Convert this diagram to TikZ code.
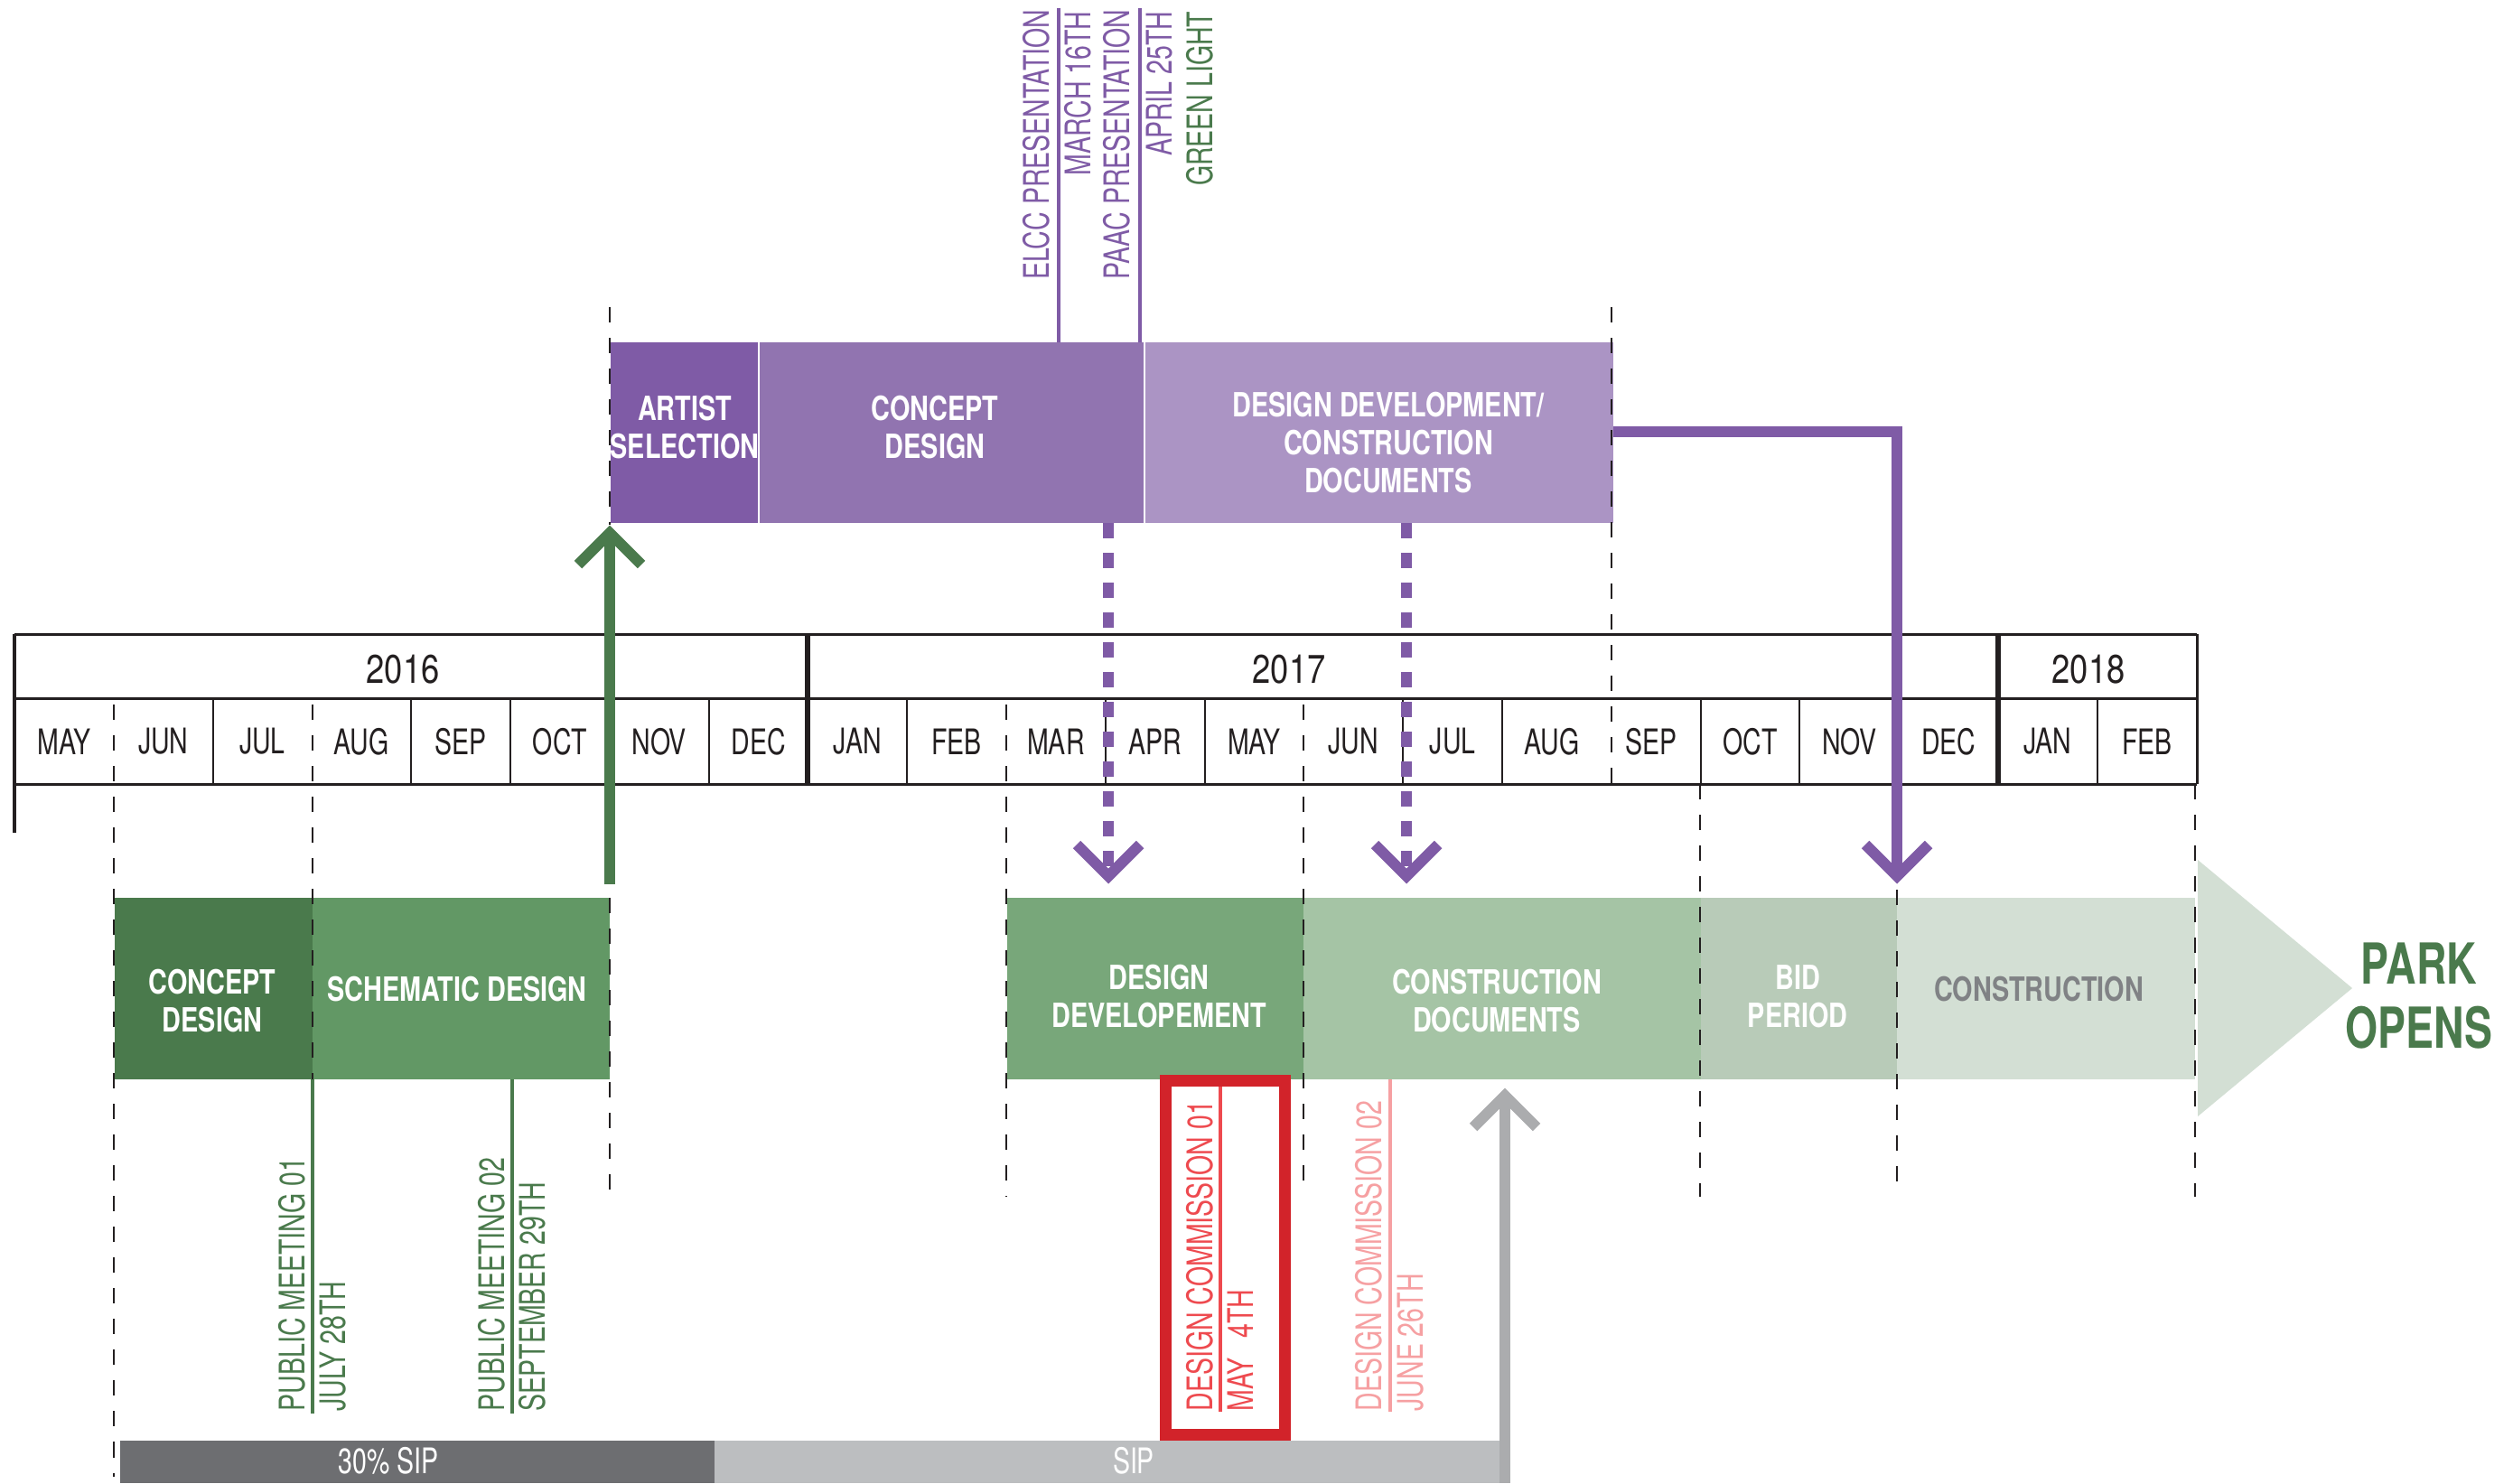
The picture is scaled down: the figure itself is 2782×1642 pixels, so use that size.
\documentclass[tikz,border=0pt]{standalone}
\usepackage{fontspec}
\setmainfont{TeX Gyre Heros}[FakeStretch=0.73]
\newfontfamily\bcond{TeX Gyre Heros}[FakeStretch=0.78]
\newfontfamily\pcond{TeX Gyre Heros}[FakeStretch=0.74]
\newfontfamily\ycond{TeX Gyre Heros}[FakeStretch=0.82]
\usetikzlibrary{calc}
\definecolor{ink}{HTML}{231F20}
\definecolor{purA}{HTML}{7F5BA6}
\definecolor{purB}{HTML}{9174B0}
\definecolor{purC}{HTML}{AB94C4}
\definecolor{grA}{HTML}{4A7A4C}
\definecolor{grB}{HTML}{629865}
\definecolor{grC}{HTML}{78A77A}
\definecolor{grD}{HTML}{A5C4A5}
\definecolor{grE}{HTML}{B8CBB8}
\definecolor{grF}{HTML}{D3DFD4}
\definecolor{gyA}{HTML}{6D6E71}
\definecolor{gyB}{HTML}{BCBEC0}
\definecolor{gyC}{HTML}{ABACAE}
\definecolor{gyT}{HTML}{808285}
\definecolor{redA}{HTML}{D2232A}
\definecolor{redT}{HTML}{EE4A4F}
\definecolor{pinkT}{HTML}{F6A0A2}
\tikzset{
 bar/.style={draw=none, inner sep=0pt, outer sep=0pt, anchor=north west, minimum height=2cm},
 blab/.style={font=\bcond\bfseries\fontsize{10.5pt}{12pt}\selectfont, text=white, align=center, inner sep=0pt},
 mlab/.style={font=\fontsize{11.1pt}{13pt}\selectfont, text=ink, inner sep=0pt},
 ylab/.style={font=\ycond\fontsize{12.6pt}{14pt}\selectfont, text=ink, inner sep=0pt},
 vlab/.style={font=\fontsize{11.1pt}{13pt}\selectfont, inner sep=0pt, rotate=90},
 guide/.style={draw=ink, line width=0.025cm, dash pattern=on 0.17cm off 0.17cm},
 frameline/.style={draw=ink, line width=0.03cm},
 cellline/.style={draw=ink, line width=0.02cm},
 yearline/.style={draw=ink, line width=0.06cm},
 evline/.style={line width=0.035cm},
 bigarrow/.style={line width=0.12cm, line cap=butt, line join=miter},
 pdash/.style={bigarrow, draw=purA, dash pattern=on 0.17cm off 0.16cm},
}
\newcommand\chevdn[2]{\draw[bigarrow,#1] ($(#2)+(-35,-35)$) -- (#2) -- ($(#2)+(35,-35)$);}
\newcommand\chevup[2]{\draw[bigarrow,#1] ($(#2)+(-35,35)$) -- (#2) -- ($(#2)+(35,35)$);}
\begin{document}
\begin{tikzpicture}[x=0.01cm,y=-0.01cm]
\path[use as bounding box, fill=white] (0,0) rectangle (2782,1642);

% ---------- top (purple) bars
\node[bar, fill=purA, minimum width=1.64cm] (artist) at (676,379) {};
\node[bar, fill=purB, minimum width=4.27cm] (tconc) at (840,379) {};
\node[bar, fill=purC, minimum width=5.19cm] (tddcd) at (1267,379) {};
\draw[white, line width=0.02cm] (artist.north east) -- (artist.south east);
\draw[white, line width=0.02cm] (tconc.north east) -- (tconc.south east);

% ---------- lower (green) bars
\node[bar, fill=grA, minimum width=2.19cm, minimum height=2.01cm] (lconc) at (127,994) {};
\node[bar, fill=grB, minimum width=3.29cm, minimum height=2.01cm] (schem) at (346,994) {};
\node[bar, fill=grC, minimum width=3.28cm, minimum height=2.01cm] (ldd) at (1115,994) {};
\node[bar, fill=grD, minimum width=4.40cm, minimum height=2.01cm] (lcd) at (1443,994) {};
\node[bar, fill=grE, minimum width=2.17cm, minimum height=2.01cm] (bid) at (1883,994) {};
\node[bar, fill=grF, minimum width=3.30cm, minimum height=2.01cm] (constr) at (2100,994) {};
\fill[grF] (2433,952) -- (2604,1094) -- (2433,1236) -- cycle;

% ---------- SIP bars
\node[bar, fill=gyA, minimum width=6.58cm, minimum height=0.47cm] (sip30) at (133,1595) {};
\node[bar, fill=gyB, minimum width=8.70cm, minimum height=0.47cm] (sip) at (791,1595) {};
\node[mlab, text=white] (lsip30) at (430,1617) {30\% SIP};
\node[mlab, text=white] (lsip) at (1255,1617) {SIP};

% ---------- timeline
\draw[frameline] (16,702) -- (2432,702);
\draw[frameline] (16,773) -- (2432,773);
\draw[frameline] (16,868) -- (2432,868);
\draw[frameline] (16,702) -- (16,922);
\draw[frameline] (2432,702) -- (2432,868);
\foreach \i in {2,4,5,6,7,9,11,12,14,15,17,18,19,21}
  \draw[cellline] ({16+109.8*\i},773) -- ({16+109.8*\i},868);
\draw[yearline] (894.4,702) -- (894.4,868);
\draw[yearline] (2212,702) -- (2212,868);
\foreach \i/\m in {0/MAY,1/JUN,2/JUL,3/AUG,4/SEP,5/OCT,6/NOV,7/DEC,8/JAN,9/FEB,10/MAR,11/APR,12/MAY,13/JUN,14/JUL,15/AUG,16/SEP,17/OCT,18/NOV,19/DEC,20/JAN,21/FEB}
  \node[mlab] (mon\i) at ({16+109.8*(\i+0.5)},821) {\m};
\node[ylab] (y2016) at (446,741) {2016};
\node[ylab] (y2017) at (1427,741) {2017};
\node[ylab] (y2018) at (2312,741) {2018};

% ---------- dashed guides
\draw[guide] (126,780) -- (126,1635);
\draw[guide] (346,780) -- (346,1195);
\draw[guide] (675,340) -- (675,581);
\draw[guide] (675,994) -- (675,1325);
\draw[guide] (1114,780) -- (1114,1325);
\draw[guide] (1443,780) -- (1443,1320);
\draw[guide] (1784,340) -- (1784,868);
\draw[guide] (1882,868) -- (1882,1325);
\draw[guide] (2100,985) -- (2100,1325);
\draw[guide] (2430,868) -- (2430,1325);

% ---------- bar labels
\node[blab] (lartist) at (758,473) {ARTIST\\SELECTION};
\node[blab] (ltconc) at (1035,473) {CONCEPT\\DESIGN};
\node[blab] (ltddcd) at (1537,490) {DESIGN DEVELOPMENT/\\CONSTRUCTION\\DOCUMENTS};
\node[blab] (llconc) at (235,1108) {CONCEPT\\DESIGN};
\node[blab] (lschem) at (506,1095) {SCHEMATIC DESIGN};
\node[blab] (lldd) at (1283,1103) {DESIGN\\DEVELOPEMENT};
\node[blab] (llcd) at (1657,1108) {CONSTRUCTION\\DOCUMENTS};
\node[blab] (lbid) at (1990,1103) {BID\\PERIOD};
\node[blab, text=gyT] (lconstr) at (2257,1095) {CONSTRUCTION};
\node[font=\pcond\bfseries\fontsize{17.8pt}{20.2pt}\selectfont, text=grA, align=center, inner sep=0pt] (park) at (2678,1103) {PARK\\OPENS};

% ---------- top events
\coordinate (elccT) at (1172,9);  \coordinate (elccB) at (1172,379);
\coordinate (paacT) at (1262,9);  \coordinate (paacB) at (1262,379);
\draw[evline, purA] (elccT) -- (elccB);
\draw[evline, purA] (paacT) -- (paacB);
\node[vlab, text=purA, anchor=base east] (elcc) at (1161,10) {ELCC PRESENTATION};
\node[vlab, text=purA, anchor=base east] (mar) at (1207,12) {MARCH 16TH};
\node[vlab, text=purA, anchor=base east] (paac) at (1250,10) {PAAC PRESENTATION};
\node[vlab, text=purA, anchor=base east] (apr) at (1297,12) {APRIL 25TH};
\node[vlab, text=grA, anchor=base east] (glight) at (1342,12) {GREEN LIGHT};

% ---------- bottom events
\coordinate (pm1T) at (346,1195); \coordinate (pm1B) at (346,1565);
\coordinate (pm2T) at (567,1195); \coordinate (pm2B) at (567,1565);
\draw[evline, grA] (pm1T) -- (pm1B);
\draw[evline, grA] (pm2T) -- (pm2B);
\node[vlab, text=grA, anchor=base west] (pm1) at (337,1563) {PUBLIC MEETING 01};
\node[vlab, text=grA, anchor=base west] (pm1d) at (382,1563) {JULY 28TH};
\node[vlab, text=grA, anchor=base west] (pm2) at (558,1563) {PUBLIC MEETING 02};
\node[vlab, text=grA, anchor=base west] (pm2d) at (603,1563) {SEPTEMBER 29TH};

\node[draw=redA, line width=0.13cm, fill=white, inner sep=0pt, outer sep=0pt, anchor=north west, minimum width=1.325cm, minimum height=3.92cm] (dcbox) at (1290,1196.5) {};
\coordinate (dc1T) at (1351,1203); \coordinate (dc1B) at (1351,1563);
\coordinate (dc2T) at (1539,1195); \coordinate (dc2B) at (1539,1563);
\draw[evline, redT] (dc1T) -- (dc1B);
\draw[evline, pinkT] (dc2T) -- (dc2B);
\node[vlab, text=redT, anchor=base west] (dc1) at (1342,1563) {DESIGN COMMISSION 01};
\node[vlab, text=redT, anchor=base west] (dc1d) at (1387,1563) {MAY\hspace{0.22cm}4TH};
\node[vlab, text=pinkT, anchor=base west] (dc2) at (1529,1563) {DESIGN COMMISSION 02};
\node[vlab, text=pinkT, anchor=base west] (dc2d) at (1575,1563) {JUNE 26TH};

% ---------- connectors
\coordinate (g1s) at (675,979);  \coordinate (g1t) at (675,590);
\draw[bigarrow, grA] (g1s) -- (g1t);
\chevup{grA}{g1t}

\coordinate (p1s) at (1227,579); \coordinate (p1t) at (1227,970);
\draw[pdash] (p1s) -- (p1t);
\chevdn{purA}{p1t}
\coordinate (p2s) at (1557,579); \coordinate (p2t) at (1557,970);
\draw[pdash] (p2s) -- (p2t);
\chevdn{purA}{p2t}

\coordinate (p3s) at (1786,478); \coordinate (p3c) at (2100,478); \coordinate (p3t) at (2100,970);
\draw[bigarrow, purA] (p3s) -- (p3c) -- (p3t);
\chevdn{purA}{p3t}

\coordinate (gys) at (1666,1642); \coordinate (gyt) at (1666,1213);
\draw[bigarrow, gyC] (gys) -- (gyt);
\chevup{gyC}{gyt}
\end{tikzpicture}
\end{document}
